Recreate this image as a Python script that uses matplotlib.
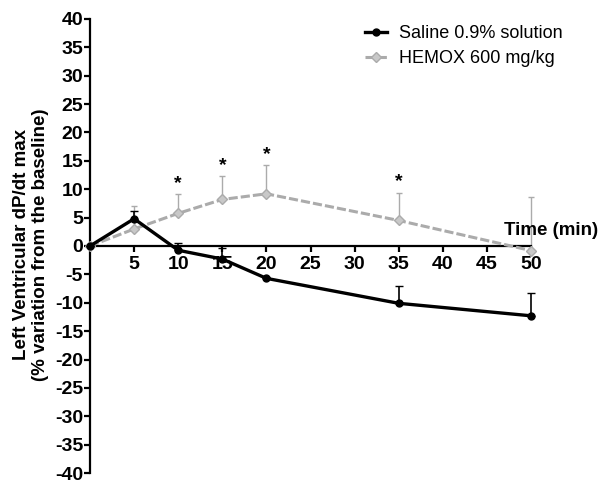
import matplotlib
matplotlib.use("Agg")
import matplotlib.pyplot as plt

plt.rcParams['font.family'] = ['Liberation Sans', 'DejaVu Sans']
plt.rcParams['axes.unicode_minus'] = False

# Data
time_min = [0, 5, 10, 15, 20, 35, 50]
saline = [0, 4.8, -0.75, -2.3, -5.7, -10.1, -12.3]
saline_err = [0, 1.3, 1.2, 1.9, 0.3, 3.1, 4.1]
hemox = [0, 3.0, 5.75, 8.2, 9.2, 4.5, -0.8]
hemox_err = [0, 4.0, 3.4, 4.1, 5.0, 4.9, 9.5]
star_times = [10, 15, 20, 35]

fig = plt.figure(figsize=(5.98, 4.82), dpi=100)
ax = fig.add_axes([90 / 598, 1 - 473 / 482, 441 / 598, 454 / 482])

gray = '#ababab'

# HEMOX series (grey dashed with diamonds)
ax.errorbar(time_min, hemox, yerr=[[0] * len(hemox_err), hemox_err],
            fmt='none', ecolor=gray, elinewidth=1, capsize=2.5,
            linestyle=':', clip_on=False, zorder=2)
h_line, = ax.plot(time_min, hemox, color=gray, linewidth=2.2,
                  dashes=(3, 1), marker='D', markersize=5,
                  markerfacecolor='#c8c8c8', markeredgecolor=gray,
                  clip_on=False, zorder=3, label='HEMOX 600 mg/kg')

# Saline series (solid black with dots)
ax.errorbar(time_min, saline, yerr=[[0] * len(saline_err), saline_err],
            fmt='none', ecolor='black', elinewidth=1.2, capsize=3,
            clip_on=False, zorder=4)
s_line, = ax.plot(time_min, saline, color='black', linewidth=2.4,
                  marker='o', markersize=5, clip_on=False, zorder=5,
                  label='Saline 0.9% solution')

# significance stars
for t in star_times:
    i = time_min.index(t)
    ax.text(t, hemox[i] + hemox_err[i] + 0.4, '*', ha='center', va='bottom',
            fontsize=14, fontweight='bold')

ax.set_xlim(0, 50)
ax.set_ylim(-40, 40)
ax.set_xticks(range(5, 51, 5))
ax.set_yticks(range(-40, 41, 5))

ax.spines['top'].set_visible(False)
ax.spines['right'].set_visible(False)
ax.spines['bottom'].set_position(('data', 0))
for s in ('left', 'bottom'):
    ax.spines[s].set_linewidth(1.6)

ax.tick_params(axis='both', direction='out', length=4.5, width=1.6,
               labelsize=14)
ax.tick_params(axis='y', pad=0.5)
ax.tick_params(axis='x', pad=3)
for lab in ax.get_xticklabels() + ax.get_yticklabels():
    lab.set_fontweight('bold')

ax.text(57.6, 1.2, 'Time (min)', ha='right', va='bottom', fontsize=13.5,
        fontweight='bold', clip_on=False, zorder=6)

fig.text(31 / 598, 1 - 245 / 482,
         'Left Ventricular dP/dt max\n(% variation from the baseline)',
         rotation=90, ha='center', va='center', multialignment='center',
         fontsize=13.5, fontweight='bold', linespacing=1.1)

fig.legend(handles=[s_line, h_line], loc='upper left',
           bbox_to_anchor=(365 / 598, 1 - 25 / 482), frameon=False,
           fontsize=13, handlelength=1.2, handletextpad=0.7,
           labelspacing=0.45, borderpad=0, borderaxespad=0)

fig.savefig('out.png', dpi=100)
